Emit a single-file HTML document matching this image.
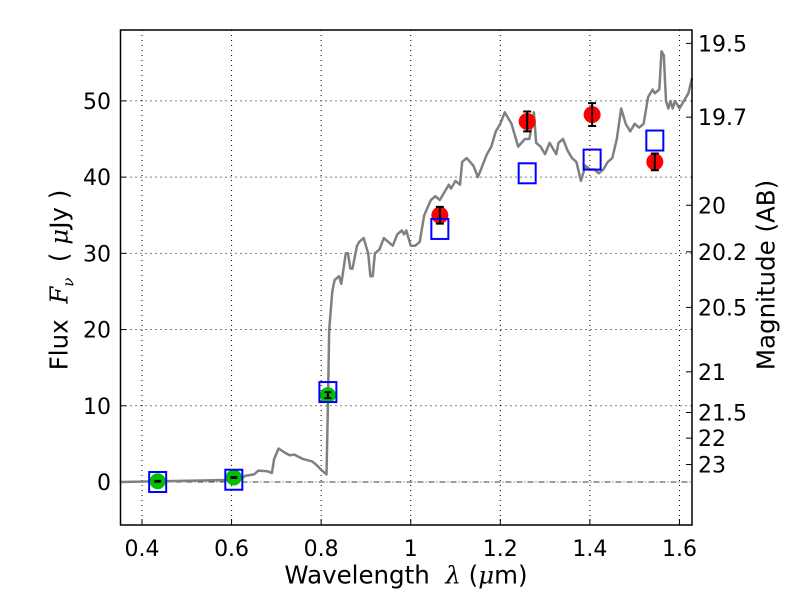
<!DOCTYPE html>
<html><head><meta charset="utf-8"><style>
html,body{margin:0;padding:0;background:#fff;}
svg{display:block;font-family:"DejaVu Sans","Liberation Sans",sans-serif;}
</style></head><body>
<svg id="chart" width="800" height="600" viewBox="0 0 800 600"></svg>
<script>
const xTicks=[0.4,0.6,0.8,1.0,1.2,1.4,1.6];
const xTickLabels=["0.4","0.6","0.8","1","1.2","1.4","1.6"];
const yTicks=[0,10,20,30,40,50];
const magTicks=[19.5,19.7,20,20.2,20.5,21,21.5,22,23];
const magLabels=["19.5","19.7","20","20.2","20.5","21","21.5","22","23"];
const specX=[0.35,0.62,0.63,0.65,0.66,0.68,0.69,0.695,0.705,0.72,0.73,0.74,0.76,0.78,0.79,0.80,0.812,0.815,0.818,0.825,0.83,0.84,0.845,0.855,0.86,0.865,0.87,0.88,0.885,0.895,0.90,0.905,0.91,0.915,0.92,0.93,0.94,0.95,0.96,0.97,0.98,0.985,0.99,1.0,1.01,1.02,1.03,1.045,1.055,1.065,1.075,1.085,1.09,1.10,1.11,1.115,1.125,1.14,1.15,1.16,1.17,1.18,1.19,1.20,1.21,1.215,1.225,1.23,1.24,1.255,1.265,1.275,1.28,1.29,1.30,1.31,1.315,1.325,1.33,1.34,1.35,1.36,1.37,1.38,1.385,1.39,1.40,1.41,1.42,1.43,1.44,1.45,1.46,1.47,1.48,1.49,1.50,1.51,1.52,1.53,1.54,1.545,1.555,1.56,1.565,1.57,1.575,1.58,1.585,1.59,1.60,1.61,1.62,1.628];
const specY=[0,0.3,0.8,1.0,1.5,1.4,1.2,3,4.4,3.8,3.5,3.6,3.0,2.7,2.2,1.6,1.0,10,20,25,26.5,27,26,30,30,28,28,31,31.5,32,31,30,27,27,30,30.5,32,31.5,31,32.5,33,32.5,33,31,31,31.5,35,37,37.5,37,38,39,38.5,39.5,39,42,42.5,41.5,40,41.5,43,44,46,47,48.5,48,47,46,44,45,45,48.5,44.5,44,43,44.5,44,43,44.5,45,43.5,42.5,42,39.5,40.5,41.5,41,41,40.5,41,42,42.5,45,49,47,46,47,46.5,47,50.5,51.5,51,51.5,56.5,56,50,49,50,49,50,49,50,51,53];
const redX=[1.065,1.26,1.405,1.545];
const redY=[35.0,47.3,48.2,42.0];
const redErr=[1.1,1.3,1.5,1.1];
const greenX=[0.435,0.605,0.815];
const greenY=[0.1,0.6,11.4];
const greenErr=[0.05,0.05,0.4];
const boxX=[0.435,0.605,0.815,1.065,1.26,1.405,1.545];
const boxY=[0.0,0.3,11.8,33.2,40.5,42.3,44.8];

const L=120.5,R=692,T=30,B=525;
const XMIN=0.352,XMAX=1.628,YMIN=-5.64,YMAX=59.3;
const sx=v=>L+(v-XMIN)/(XMAX-XMIN)*(R-L);
const sy=v=>B-(v-YMIN)/(YMAX-YMIN)*(B-T);
const NS="http://www.w3.org/2000/svg";
const svg=document.getElementById('chart');
function mk(tag,attrs,parent){const e=document.createElementNS(NS,tag);for(const k in attrs)e.setAttribute(k,attrs[k]);(parent||svg).appendChild(e);return e;}

xTicks.forEach((v,i)=>{
  const g=mk('line',{x1:sx(v),x2:sx(v),y1:T,y2:B,stroke:'#000','stroke-width':1,'stroke-dasharray':'1,4'});
  
  
  const t=mk('line',{x1:sx(v),x2:sx(v),y1:B,y2:B-6,stroke:'#000'});
  
  
  const lb=mk('text',{x:sx(v),y:556,'font-size':22,'text-anchor':'middle'});
  lb.textContent=xTickLabels[i];
  
  
});
yTicks.forEach(v=>{
  if(v!==0){
    const g=mk('line',{x1:L,x2:R,y1:sy(v),y2:sy(v),stroke:'#000','stroke-width':1,'stroke-dasharray':'1,4'});
    
    
  }
  const t=mk('line',{x1:L,x2:L+6,y1:sy(v),y2:sy(v),stroke:'#000'});
  
  
  const lb=mk('text',{x:111,y:sy(v)+8,'font-size':22,'text-anchor':'end'});
  lb.textContent=String(v);
  
  
});
const z=mk('line',{x1:L,x2:R,y1:sy(0),y2:sy(0),stroke:'#000','stroke-width':0.8,'stroke-dasharray':'6,2,1,2'});



magTicks.forEach((m,i)=>{
  const f=Math.pow(10,(23.9-m)/2.5);
  const t=mk('line',{x1:R,x2:R-6,y1:sy(f),y2:sy(f),stroke:'#000'});
  
  
  const lb=mk('text',{x:698,y:sy(f)+8,'font-size':22});
  lb.textContent=magLabels[i];
  
  
});

let d='';
specX.forEach((v,i)=>{d+=(i?'L':'M')+sx(v).toFixed(1)+','+sy(specY[i]).toFixed(1);});
const sp=mk('path',{d:d,fill:'none',stroke:'#808080','stroke-width':2.5,'stroke-linejoin':'round'});



greenX.forEach((v,i)=>{
  const c=mk('circle',{cx:sx(v),cy:sy(greenY[i]),r:8,fill:'#00c000'});
  
  
  const e1=sy(greenY[i]+greenErr[i]),e2=sy(greenY[i]-greenErr[i]);
  const el=mk('path',{d:`M${sx(v)},${e1}V${e2}M${sx(v)-3.5},${e1}H${sx(v)+3.5}M${sx(v)-3.5},${e2}H${sx(v)+3.5}`,stroke:'#000','stroke-width':2,fill:'none'});
  
  
});
redX.forEach((v,i)=>{
  const c=mk('circle',{cx:sx(v),cy:sy(redY[i]),r:8.5,fill:'#ff0000'});
  
  
  const e1=sy(redY[i]+redErr[i]),e2=sy(redY[i]-redErr[i]);
  const el=mk('path',{d:`M${sx(v)},${e1}V${e2}M${sx(v)-4},${e1}H${sx(v)+4}M${sx(v)-4},${e2}H${sx(v)+4}`,stroke:'#000','stroke-width':2,fill:'none'});
  
  
});
boxX.forEach((v,i)=>{
  const r=mk('rect',{x:sx(v)-8.5,y:sy(boxY[i])-10,width:17,height:20,fill:'none',stroke:'#0000ff','stroke-width':2});
  
  
});

const fr=mk('rect',{x:L,y:T,width:R-L,height:B-T,fill:'none',stroke:'#000','stroke-width':1.5});


</script>
<div style="position:absolute;left:0;top:0;width:800px;height:600px;pointer-events:none;font-family:'DejaVu Sans','Liberation Sans',sans-serif;">
<div style="position:absolute;left:406px;top:575px;font-size:24.5px;white-space:nowrap;transform:translate(-50%,-50%);">Wavelength&nbsp; <i style="font-family:'DejaVu Serif',serif;">λ</i> (<i style="font-family:'DejaVu Serif',serif;">μ</i>m)</div>
<div style="position:absolute;left:61px;top:280px;font-size:24.5px;white-space:nowrap;transform:translate(-50%,-50%) rotate(-90deg);">Flux&nbsp; <i style="font-family:'DejaVu Serif',serif;">F<sub style="font-size:15px">ν</sub></i>&nbsp; (&nbsp;<i style="font-family:'DejaVu Serif',serif;">μ</i>Jy )</div>
<div style="position:absolute;left:766px;top:275px;font-size:24.5px;white-space:nowrap;transform:translate(-50%,-50%) rotate(-90deg);">Magnitude (AB)</div>
</div>
</body></html>
